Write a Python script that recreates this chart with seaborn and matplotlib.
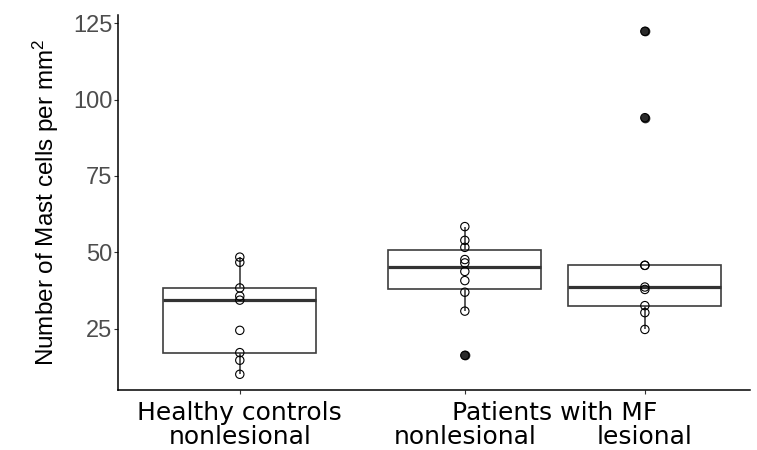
import pandas as pd
import matplotlib
matplotlib.use("Agg")
import matplotlib.pyplot as plt
import seaborn as sns

# values (mast cells per mm^2)
groups = ["Healthy nonlesional", "MF nonlesional", "MF lesional"]
healthy_nonlesional = [48.4, 46.7, 38.3, 35.6, 34.3, 24.4, 17.1, 14.6, 10.0]
mf_nonlesional = [58.4, 53.9, 51.6, 47.6, 46.5, 43.7, 40.7, 36.9, 30.7, 16.2]
mf_lesional = [122.4, 94.1, 45.7, 45.7, 38.6, 37.8, 32.5, 30.2, 24.7]
tick_labels = ["Healthy controls\nnonlesional", "nonlesional", "lesional"]
patients_label = "Patients with MF"
y_ticks = [25, 50, 75, 100, 125]

# x positions of the boxes (patients boxes are dodged closer together)
positions = {"Healthy nonlesional": 0.0, "MF nonlesional": 1.25, "MF lesional": 2.25}

rows = []
for g, vals in zip(groups, [healthy_nonlesional, mf_nonlesional, mf_lesional]):
    for v in vals:
        rows.append({"group": g, "pos": positions[g], "value": v})
df = pd.DataFrame(rows)

sns.set_theme(style="ticks")
plt.rcParams["font.family"] = ["Liberation Sans", "DejaVu Sans"]
plt.rcParams["mathtext.fontset"] = "custom"
plt.rcParams["mathtext.rm"] = "Liberation Sans"
plt.rcParams["mathtext.it"] = "Liberation Sans:italic"

fig, ax = plt.subplots(figsize=(7.57, 4.5), dpi=100)
fig.subplots_adjust(left=0.156, right=0.991, bottom=0.133, top=0.967)

line_col = "#3d3d3d"
sns.boxplot(data=df, x="pos", y="value", native_scale=True, width=0.85,
            color="white", linecolor=line_col, linewidth=1.2, saturation=1,
            showcaps=False,
            medianprops=dict(linewidth=2.3, color="#333333"),
            flierprops=dict(marker="o", markerfacecolor="#2b2b2b",
                            markeredgecolor="#2b2b2b", markersize=6),
            ax=ax)
sns.stripplot(data=df, x="pos", y="value", native_scale=True, jitter=False,
              facecolor="none", edgecolor="black", linewidth=0.8, size=6,
              zorder=3, ax=ax)

ax.set_xlim(-0.676, 2.835)
ax.set_ylim(4.8, 127.8)
ax.set_yticks(y_ticks)
ax.set_xticks([positions[g] for g in groups])
ax.set_xticklabels(tick_labels, fontfamily="DejaVu Sans", fontsize=18,
                   color="black", linespacing=1.0)

ax.tick_params(axis="y", labelsize=17, labelcolor="#4d4d4d", length=3,
               width=0.8, color="#333333", pad=1)
ax.tick_params(axis="x", length=3, width=0.8, color="#333333", pad=5)

# patient ticks sit one text line lower, under the shared group label
line_step = 17.0
for tick in ax.xaxis.get_major_ticks()[1:]:
    tick.set_pad(5 + line_step)
ax.annotate(patients_label, xy=(1.75, 0), xycoords=ax.get_xaxis_transform(),
            xytext=(0, -8), textcoords="offset points", ha="center", va="top",
            fontfamily="DejaVu Sans", fontsize=18, color="black")

ax.set_xlabel("")
ax.set_ylabel("Number of Mast cells per mm$^2$", fontsize=17.5, color="black",
              labelpad=9)

sns.despine(ax=ax)
for s in ["left", "bottom"]:
    ax.spines[s].set_linewidth(1.1)
    ax.spines[s].set_color("black")

fig.savefig("out.png", dpi=100)
